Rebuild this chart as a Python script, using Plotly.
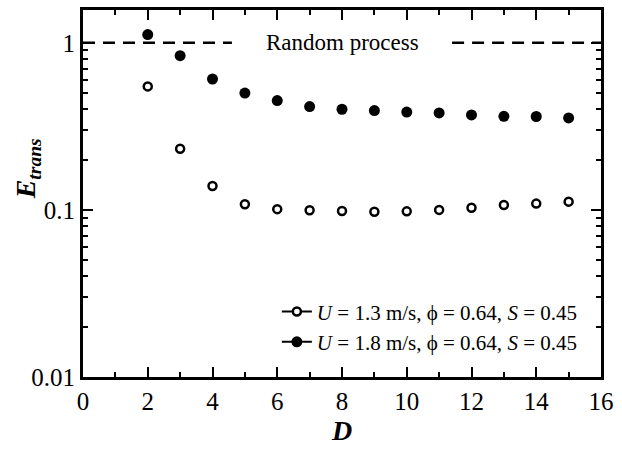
import plotly.graph_objects as go

D = [2, 3, 4, 5, 6, 7, 8, 9, 10, 11, 12, 13, 14, 15]
E_u13 = [0.548, 0.232, 0.139, 0.108, 0.101, 0.0995, 0.0985, 0.0975, 0.098, 0.100, 0.103, 0.107, 0.109, 0.112]
E_u18 = [1.12, 0.837, 0.607, 0.50, 0.451, 0.415, 0.400, 0.393, 0.385, 0.380, 0.370, 0.363, 0.362, 0.355]
label_u13 = "<i>U</i> = 1.3 m/s, ϕ = 0.64, <i>S</i> = 0.45"
label_u18 = "<i>U</i> = 1.8 m/s, ϕ = 0.64, <i>S</i> = 0.45"
random_x_left = [0, 4.6]
random_x_right = [11.4, 16]
random_level = [1, 1]
random_label = "Random process"
random_label_x = 8.0
y_major = [0.01, 0.1, 1]
y_major_text = ["0.01", "0.1", "1"]
y_minor = [m * 10.0 ** e for e in (-2, -1, 0) for m in range(2, 10)]
x_range = [0, 16]
y_range_log = [-2, 0.196]

FONT = "Liberation Serif, Times New Roman, serif"

fig = go.Figure()
for xs in (random_x_left, random_x_right):
    fig.add_trace(go.Scatter(x=xs, y=random_level, mode="lines",
                             line=dict(color="black", width=2.5, dash="12px,8px"),
                             showlegend=False, hoverinfo="skip"))

open_marker = dict(symbol="circle", size=8, color="white", line=dict(color="black", width=2.5))
fill_marker = dict(symbol="circle", size=11, color="black", line=dict(color="black", width=0))

fig.add_trace(go.Scatter(x=D, y=E_u13, mode="markers", marker=open_marker, showlegend=False))
fig.add_trace(go.Scatter(x=D, y=E_u18, mode="markers", marker=fill_marker, showlegend=False))
fig.add_trace(go.Scatter(x=[None], y=[None], mode="lines+markers", name=label_u13,
                         marker=open_marker, line=dict(color="black", width=2)))
fig.add_trace(go.Scatter(x=[None], y=[None], mode="lines+markers", name=label_u18,
                         marker=fill_marker, line=dict(color="black", width=2)))
fig.add_trace(go.Scatter(x=[None], y=[None], xaxis="x2", yaxis="y2", showlegend=False, hoverinfo="skip"))

fig.add_annotation(x=random_label_x, y=0, xref="x", yref="y", text=random_label, showarrow=False,
                   font=dict(family=FONT, size=23, color="black"))
fig.add_annotation(x=-0.108, y=0.566, xref="paper", yref="paper", textangle=-90,
                   xanchor="center", yanchor="middle", showarrow=False,
                   text="<b><i>E</i></b><sub><b><i>trans</i></b></sub>",
                   font=dict(family=FONT, size=28, color="black"))

tickfont = dict(family=FONT, size=25, color="black")

fig.update_layout(
    width=622, height=455,
    margin=dict(l=83, r=21, t=7, b=78),
    paper_bgcolor="white", plot_bgcolor="white",
    font=dict(family=FONT, color="black"),
    xaxis=dict(range=x_range, tickmode="linear", dtick=2, tick0=0,
               showline=True, linecolor="black", linewidth=3, mirror="allticks",
               ticks="inside", ticklen=10, tickwidth=2, tickcolor="black",
               showgrid=False, zeroline=False, tickfont=tickfont,
               title=dict(text="<b><i>D</i></b>", font=dict(family=FONT, size=28, color="black"), standoff=2)),
    yaxis=dict(type="log", range=y_range_log, tickmode="array", tickvals=y_major, ticktext=y_major_text,
               showline=True, linecolor="black", linewidth=3, mirror="allticks",
               ticks="inside", ticklen=10, tickwidth=2, tickcolor="black",
               showgrid=False, zeroline=False, tickfont=tickfont),
    xaxis2=dict(overlaying="x", anchor="y2", range=x_range, tickmode="linear", tick0=0, dtick=1,
                ticks="inside", ticklen=5, tickwidth=2, tickcolor="black", mirror="ticks",
                showticklabels=False, showgrid=False, zeroline=False, showline=False),
    yaxis2=dict(overlaying="y", anchor="x2", type="log", range=y_range_log, tickmode="array", tickvals=y_minor,
                ticks="inside", ticklen=5, tickwidth=2, tickcolor="black", mirror="ticks",
                showticklabels=False, showgrid=False, zeroline=False, showline=False),
    legend=dict(x=0.965, xanchor="right", y=0.04, yanchor="bottom",
                font=dict(family=FONT, size=21, color="black"),
                bgcolor="rgba(0,0,0,0)", tracegroupgap=0, itemwidth=30),
)

fig.write_html("out.html", config={"displayModeBar": False},
               post_script="document.body.style.margin='0';document.body.style.padding='0';")
